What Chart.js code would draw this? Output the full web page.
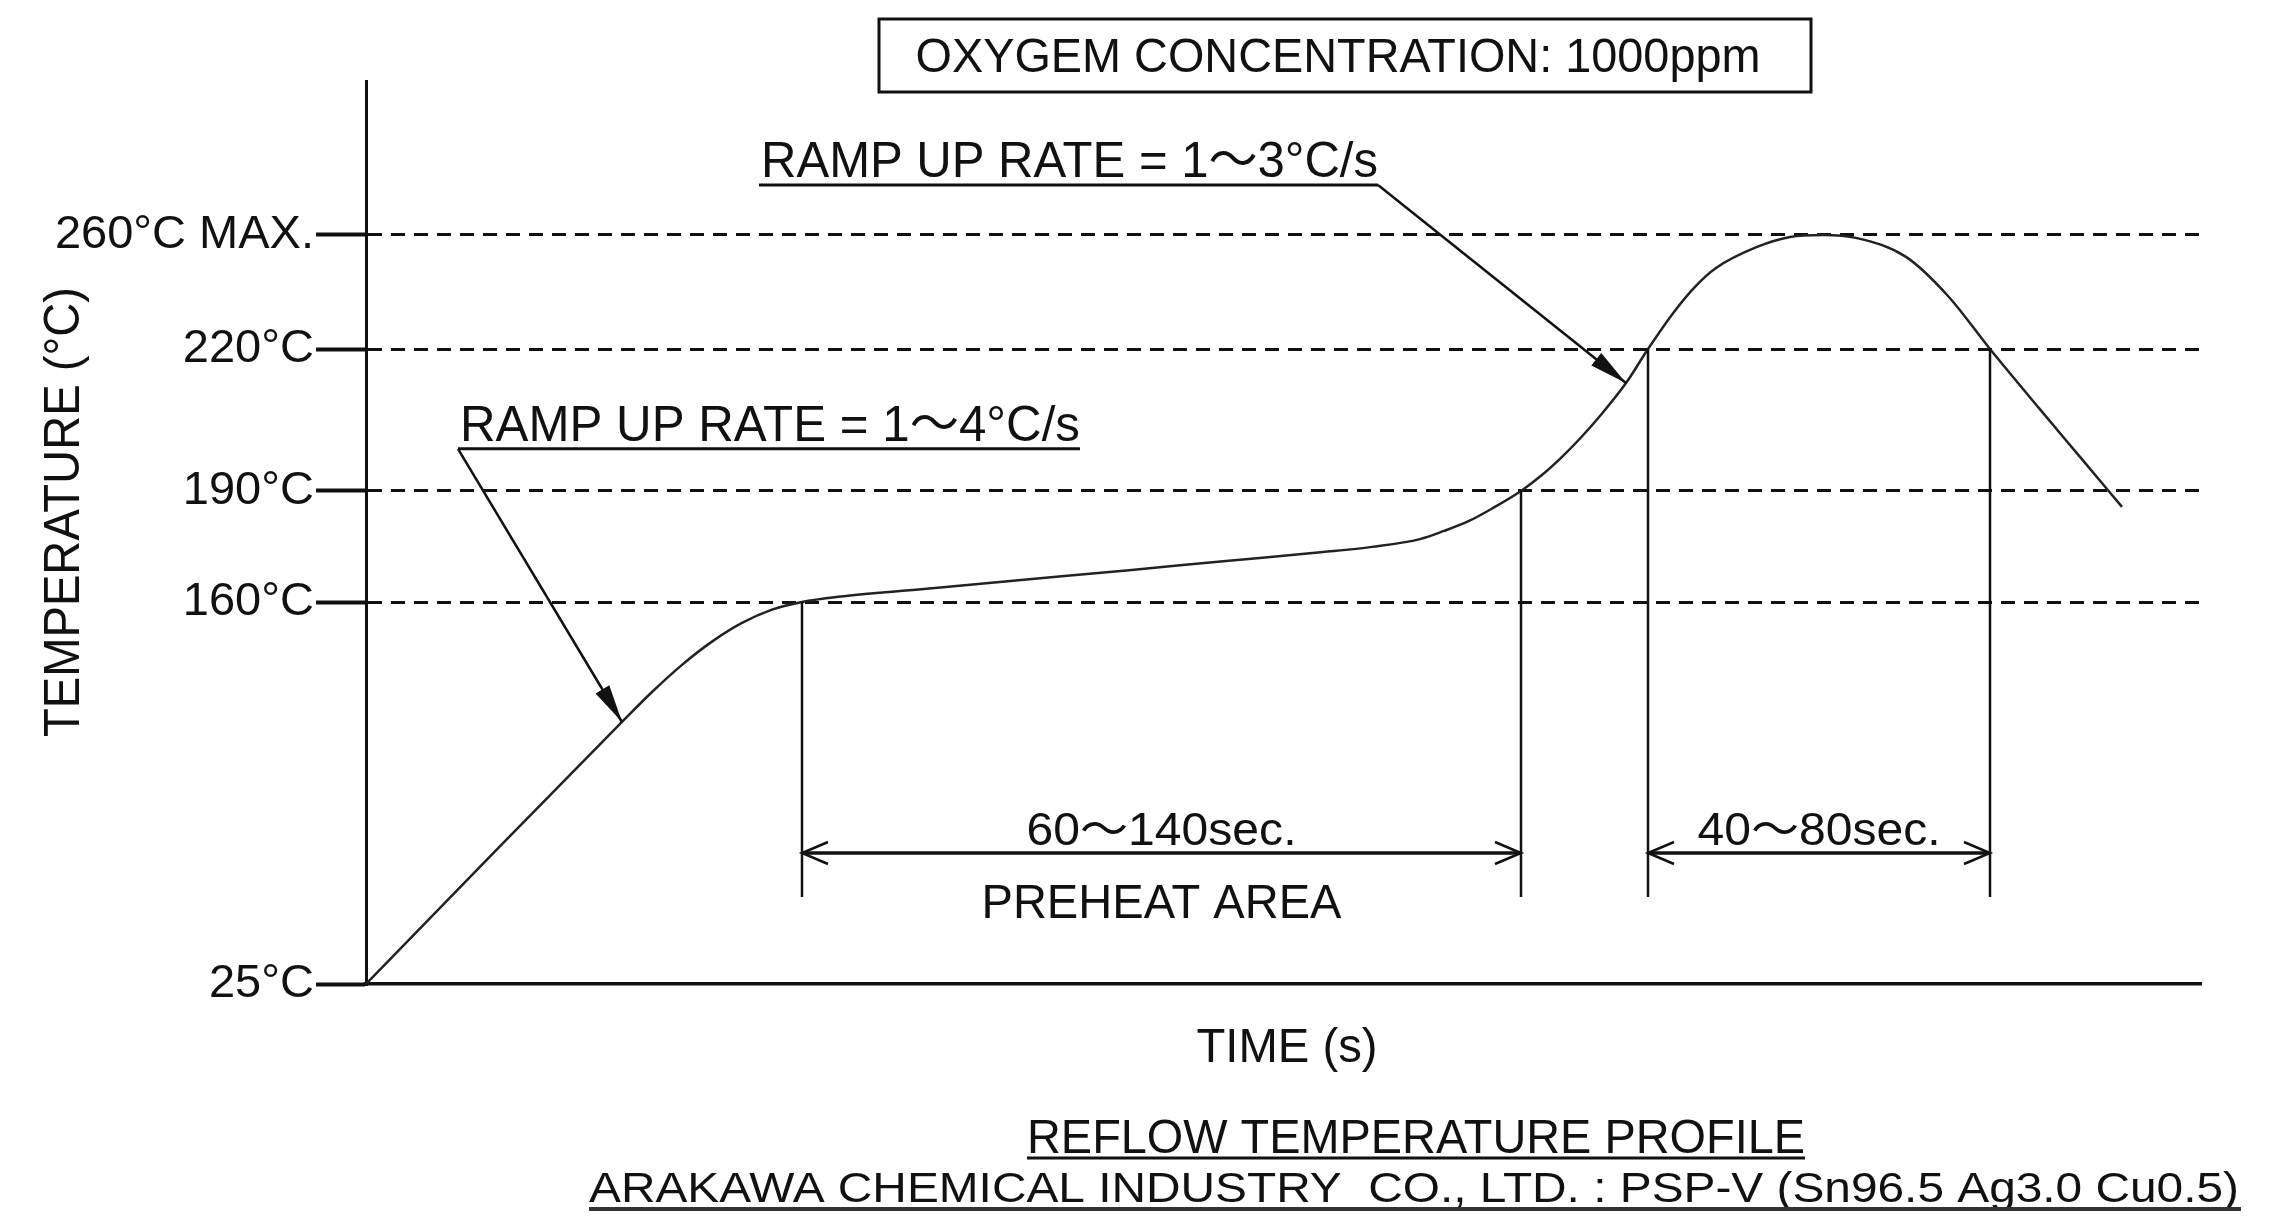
<!DOCTYPE html>
<html>
<head>
<meta charset="utf-8">
<title>Reflow temperature profile</title>
<script src="https://cdn.jsdelivr.net/npm/chart.js@4.4.1/dist/chart.umd.min.js"></script>
<style>
  html, body { margin: 0; padding: 0; background: #fff; }
  #wrap { width: 2292px; height: 1226px; position: relative; }
</style>
</head>
<body>
<div id="wrap"><canvas id="reflowChart"></canvas></div>
<script>
// profile: time (s) and temperature (°C)
const timeS = [0, 25.6, 51.2, 57.2, 63.2, 69.2, 75.2, 81.2, 87.2, 94.4, 113.8, 133.2, 152.6, 172, 191.4,
  201.2, 210.8, 215.6, 220.6, 225.4, 231, 235, 239, 243, 247, 252, 256.4, 261.6, 265.8, 270,
  278.2, 284.8, 291.4, 298.2, 308, 316.4, 324.8, 334.6, 342.8, 351.2];
const tempC = [25, 71.5, 117.6, 128.2, 137.8, 146, 152.6, 157.3, 160, 161.4, 163.8, 166.2, 168.6, 171.1, 173.5,
  174.9, 177, 179.2, 181.9, 185.4, 190, 193.2, 197, 201.3, 206.1, 212.8, 220, 233, 241.8, 248.4,
  255.8, 259.3, 260, 258.9, 252.3, 238.6, 220, 207.5, 197.2, 185.7];

const tickTemps = [25, 160, 190, 220, 260];
const tickLabels = ['25°C', '160°C', '190°C', '220°C', '260°C MAX.'];

// time windows marked under the curve
const preheatWindow = [87.2, 231];    // 160°C -> 190°C
const preheatLevels = [160, 190];
const reflowWindow = [256.4, 324.8];  // above 220°C
const reflowLevels = [220, 220];

const FONT = "'Liberation Sans', 'Noto Sans CJK JP', sans-serif";
const INK = '#111';

// the temperature axis of the drawing is not to scale, each marked level has its own height
const axisStops = [[25, 0], [160, 0.423], [190, 0.546], [220, 0.7032], [260, 0.8295], [314, 1]];

function tempToDecimal(v) {
  for (let i = 1; i < axisStops.length; i++) {
    const [t0, d0] = axisStops[i - 1];
    const [t1, d1] = axisStops[i];
    if (v <= t1 || i === axisStops.length - 1) return d0 + (v - t0) / (t1 - t0) * (d1 - d0);
  }
}

function decimalToTemp(d) {
  for (let i = 1; i < axisStops.length; i++) {
    const [t0, d0] = axisStops[i - 1];
    const [t1, d1] = axisStops[i];
    if (d <= d1 || i === axisStops.length - 1) return t0 + (d - d0) / (d1 - d0) * (t1 - t0);
  }
}

class SchematicScale extends Chart.LinearScale {
  static id = 'schematic';
  getPixelForValue(value) {
    if (value === null || isNaN(value)) return NaN;
    return this.getPixelForDecimal(tempToDecimal(value));
  }
  getValueForPixel(pixel) {
    return decimalToTemp(this.getDecimalForPixel(pixel));
  }
}
Chart.register(SchematicScale);

function fitText(ctx, text, x, y, width, align) {
  const w = ctx.measureText(text).width;
  ctx.save();
  ctx.translate(x, y);
  ctx.scale(width / w, 1);
  ctx.textAlign = align;
  ctx.textBaseline = 'alphabetic';
  ctx.fillText(text, 0, 0);
  ctx.restore();
}

function solidHead(ctx, fx, fy, tx, ty, len, half) {
  const a = Math.atan2(ty - fy, tx - fx);
  const bx = tx - len * Math.cos(a), by = ty - len * Math.sin(a);
  ctx.beginPath();
  ctx.moveTo(tx, ty);
  ctx.lineTo(bx + half * Math.sin(a), by - half * Math.cos(a));
  ctx.lineTo(bx - half * Math.sin(a), by + half * Math.cos(a));
  ctx.closePath();
  ctx.fill();
}

function openHead(ctx, tx, ty, dir) {
  ctx.beginPath();
  ctx.moveTo(tx - dir * 26, ty - 11);
  ctx.lineTo(tx, ty);
  ctx.lineTo(tx - dir * 26, ty + 11);
  ctx.stroke();
}

// leader notes: underline [t0, t1] at a level, leader leaves from one end to a point on the curve
const rampNotes = [
  { text: 'RAMP UP RATE = 1～4°C/s', under: [18.4, 142.8], level: 198.9, leaderFrom: 18.4, tip: [51.2, 117.6] },
  { text: 'RAMP UP RATE = 1～3°C/s', under: [78.6, 202.4], level: 277.5, leaderFrom: 202.4, tip: [252, 212.8] }
];
const dimLineAt = 71.3; // °C level where the time spans are drawn

const annotations = {
  id: 'annotations',
  afterDraw(chart) {
    const { ctx, scales: { x, y } } = chart;
    ctx.save();
    ctx.fillStyle = INK;
    ctx.strokeStyle = INK;
    ctx.lineCap = 'butt';

    // oxygen box
    ctx.lineWidth = 3;
    ctx.strokeRect(879, 19, 932, 73);
    ctx.font = '48px ' + FONT;
    fitText(ctx, 'OXYGEM CONCENTRATION: 1000ppm', 1338, 72, 845, 'center');

    // ramp notes with leaders
    ctx.font = '50px ' + FONT;
    rampNotes.forEach(n => {
      const ux0 = x.getPixelForValue(n.under[0]);
      const ux1 = x.getPixelForValue(n.under[1]);
      const uy = y.getPixelForValue(n.level);
      fitText(ctx, n.text, ux0 + 2, uy - 8, ux1 - ux0 - 2, 'left');
      ctx.lineWidth = 3;
      ctx.beginPath();
      ctx.moveTo(ux0, uy);
      ctx.lineTo(ux1, uy);
      ctx.stroke();
      const lx = x.getPixelForValue(n.leaderFrom);
      const tx = x.getPixelForValue(n.tip[0]);
      const ty = y.getPixelForValue(n.tip[1]);
      ctx.lineWidth = 2.5;
      ctx.beginPath();
      ctx.moveTo(lx, uy);
      ctx.lineTo(tx, ty);
      ctx.stroke();
      solidHead(ctx, lx, uy, tx, ty, 38, 8);
    });

    // time spans
    const arrowY = y.getPixelForValue(dimLineAt);
    const spans = [
      { win: preheatWindow, levels: preheatLevels, label: '60～140sec.', width: 270, note: 'PREHEAT AREA' },
      { win: reflowWindow, levels: reflowLevels, label: '40～80sec.', width: 243 }
    ];
    spans.forEach(s => {
      const xa = x.getPixelForValue(s.win[0]);
      const xb = x.getPixelForValue(s.win[1]);
      ctx.lineWidth = 2.5;
      ctx.beginPath();
      ctx.moveTo(xa, y.getPixelForValue(s.levels[0]));
      ctx.lineTo(xa, arrowY + 44);
      ctx.moveTo(xb, y.getPixelForValue(s.levels[1]));
      ctx.lineTo(xb, arrowY + 44);
      ctx.stroke();
      ctx.lineWidth = 3.5;
      ctx.beginPath();
      ctx.moveTo(xa, arrowY);
      ctx.lineTo(xb, arrowY);
      ctx.stroke();
      ctx.lineWidth = 2.5;
      openHead(ctx, xa, arrowY, -1);
      openHead(ctx, xb, arrowY, 1);
      ctx.font = '46px ' + FONT;
      fitText(ctx, s.label, (xa + xb) / 2, arrowY - 8, s.width, 'center');
      if (s.note) {
        ctx.font = '48px ' + FONT;
        fitText(ctx, s.note, (xa + xb) / 2, arrowY + 65, 360, 'center');
      }
    });

    // axis titles
    ctx.font = '48px ' + FONT;
    fitText(ctx, 'TIME (s)', 1287, 1062, 181, 'center');
    ctx.save();
    ctx.translate(79, 512);
    ctx.rotate(-Math.PI / 2);
    ctx.font = '50px ' + FONT;
    fitText(ctx, 'TEMPERATURE (°C)', 0, 0, 450, 'center');
    ctx.restore();

    // caption
    ctx.font = '48px ' + FONT;
    fitText(ctx, 'REFLOW TEMPERATURE PROFILE', 1416, 1153, 778, 'center');
    ctx.lineWidth = 3;
    ctx.beginPath();
    ctx.moveTo(1027, 1158);
    ctx.lineTo(1805, 1158);
    ctx.stroke();
    ctx.font = '42px ' + FONT;
    fitText(ctx, 'ARAKAWA CHEMICAL INDUSTRY  CO., LTD. : PSP-V (Sn96.5 Ag3.0 Cu0.5)', 589, 1202, 1650, 'left');
    ctx.strokeStyle = '#333';
    ctx.lineWidth = 4;
    ctx.beginPath();
    ctx.moveTo(589, 1209);
    ctx.lineTo(2241, 1209);
    ctx.stroke();
    ctx.restore();
  }
};

const ctx = document.getElementById('reflowChart').getContext('2d');
const reflowChart = new Chart(ctx, {
  type: 'line',
  data: {
    datasets: [{
      label: 'Reflow profile',
      data: timeS.map((t, i) => ({ x: t, y: tempC[i] })),
      borderColor: '#222',
      borderWidth: 2.5,
      pointRadius: 0,
      cubicInterpolationMode: 'monotone',
      fill: false
    }]
  },
  options: {
    responsive: true,
    maintainAspectRatio: false,
    animation: false,
    layout: { padding: { top: 81, right: 91, left: 0, bottom: 0 } },
    plugins: {
      legend: { display: false },
      tooltip: { enabled: false }
    },
    scales: {
      x: {
        type: 'linear',
        min: 0,
        max: 367,
        ticks: { display: false },
        grid: { display: false, drawTicks: false },
        border: { display: true, color: INK, width: 3.5 },
        afterFit: s => { s.height = 242; }
      },
      y: {
        type: 'schematic',
        min: 25,
        max: 314,
        afterBuildTicks: s => { s.ticks = tickTemps.map(v => ({ value: v })); },
        afterFit: s => { s.width = 366; },
        ticks: {
          autoSkip: false,
          padding: 2,
          color: INK,
          font: { family: FONT, size: 47 },
          callback: v => tickLabels[tickTemps.indexOf(v)]
        },
        grid: {
          color: c => (c.tick && c.tick.value === 25 ? 'rgba(0,0,0,0)' : INK),
          lineWidth: 3,
          tickLength: 50,
          tickWidth: 4,
          tickColor: INK,
          tickBorderDash: []
        },
        border: { display: true, color: INK, width: 3, dash: [14, 9] }
      }
    }
  },
  plugins: [annotations]
});
</script>
</body>
</html>
